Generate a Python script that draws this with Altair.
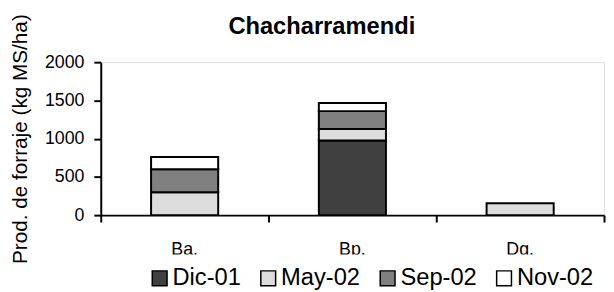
import altair as alt
import pandas as pd

FONT = "Liberation Sans"

sites = ["Ba.", "Bp.", "Dg."]
dates = ["Dic-01", "May-02", "Sep-02", "Nov-02"]
dic01 = [0, 975, 0]
may02 = [300, 150, 155]
sep02 = [300, 235, 0]
nov02 = [160, 105, 0]
colors = ["#404040", "#dddddd", "#808080", "#ffffff"]
y_ticks = [0, 500, 1000, 1500, 2000]
x_bounds = [0, 1, 2, 3]

rows = []
for k, (d, vals) in enumerate(zip(dates, [dic01, may02, sep02, nov02])):
    for s, v in zip(sites, vals):
        if v > 0:
            rows.append({"site": s, "fecha": d, "k": k, "val": v})
df = pd.DataFrame(rows)

bars = alt.Chart(df).mark_bar(stroke="black", strokeWidth=2).encode(
    x=alt.X(
        "site:N", sort=sites,
        scale=alt.Scale(paddingInner=0.6, paddingOuter=0.3),
        axis=alt.Axis(title=None, ticks=False, domain=False, labelAngle=0,
                      labelFontSize=18, labelFont=FONT, labelColor="black",
                      labelPadding=26, orient="bottom"),
    ),
    y=alt.Y(
        "val:Q", stack="zero",
        scale=alt.Scale(domain=[0, 2000], nice=False),
        axis=alt.Axis(values=y_ticks, format="d",
                      title="Prod. de forraje (kg MS/ha)",
                      grid=False, tickSize=7, tickWidth=2, domainWidth=2,
                      domainColor="black", tickColor="black",
                      labelFontSize=18, labelFont=FONT, labelColor="black",
                      labelPadding=10, titleFontSize=21, titleFont=FONT,
                      titleFontWeight="normal", titleColor="black",
                      titlePadding=14),
    ),
    color=alt.Color(
        "fecha:N", sort=dates,
        scale=alt.Scale(domain=dates, range=colors),
        legend=alt.Legend(orient="none", legendX=35.7, legendY=195,
                          direction="horizontal", title=None,
                          symbolType="square", symbolSize=225,
                          symbolStrokeColor="black", symbolStrokeWidth=1.5,
                          symbolOpacity=1,
                          labelFontSize=24, labelFont=FONT, labelColor="black",
                          labelOffset=1, columnPadding=15, padding=12,
                          fillColor="white"),
    ),
    order=alt.Order("k:Q", sort="ascending"),
)

axis_df = pd.DataFrame({"b": [x_bounds[0], x_bounds[-1]]})
ticks = alt.Chart(axis_df).mark_point(opacity=0).encode(
    x=alt.X("b:Q", scale=alt.Scale(domain=[0, 3], nice=False, zero=False),
            axis=alt.Axis(values=x_bounds, labels=False, title=None, grid=False,
                          tickSize=7, tickWidth=2, domainWidth=2,
                          domainColor="black", tickColor="black",
                          orient="bottom")),
)

chart = alt.layer(ticks, bars).resolve_scale(x="independent").properties(
    width=510, height=155,
    autosize=alt.AutoSizeParams(type="none"),
    padding={"left": 94, "top": 53, "right": 2, "bottom": 76},
    title=alt.TitleParams("Chacharramendi", fontSize=24, fontWeight="bold",
                          font=FONT, color="black", anchor="middle", dx=-31,
                          baseline="alphabetic", offset=-45),
).configure_view(stroke=None).configure(background="white")

chart.save("out.html", embed_options={"renderer": "svg", "actions": False})
